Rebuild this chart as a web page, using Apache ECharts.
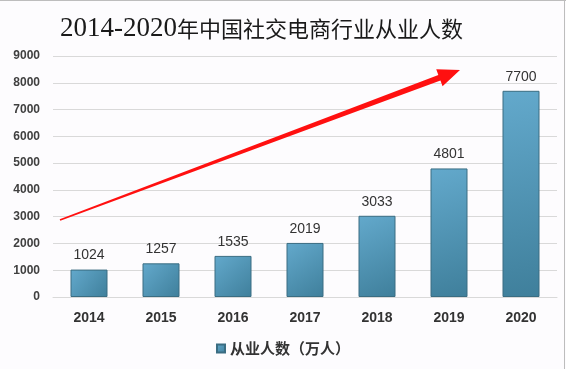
<!DOCTYPE html>
<html>
<head>
<meta charset="utf-8">
<script src="https://cdn.jsdelivr.net/npm/echarts@6/dist/echarts.min.js"></script>
<style>html,body{margin:0;padding:0;background:#fdfcfe}#c{width:566px;height:369px}</style>
</head>
<body>
<div id="c"></div>
<script>
const categories = ['2014', '2015', '2016', '2017', '2018', '2019', '2020'];
const employees = [1024, 1257, 1535, 2019, 3033, 4801, 7700];
const seriesName = '从业人数（万人）';
const titleYears = '2014-2020';
const titleText = '年中国社交电商行业从业人数';

const chart = echarts.init(document.getElementById('c'));

// tapered arrow polygon (decoration)
const sx = 60, sy = 220, tx = 460, ty = 70;
const dx = tx - sx, dy = ty - sy, L = Math.hypot(dx, dy);
const ux = dx / L, uy = dy / L, nx = -uy, ny = ux;
const headLen = 22, headW = 9, shaftW = 3, tailW = 0.9;
const bx = tx - headLen * ux, by = ty - headLen * uy;
const pts = [
  [sx + tailW * nx, sy + tailW * ny],
  [bx + shaftW * nx, by + shaftW * ny],
  [bx + headW * nx, by + headW * ny],
  [tx, ty],
  [bx - headW * nx, by - headW * ny],
  [bx - shaftW * nx, by - shaftW * ny],
  [sx - tailW * nx, sy - tailW * ny]
];

chart.setOption({
  backgroundColor: '#fdfcfe',
  animation: false,
  title: {
    text: '{a|' + titleYears + '}{b|' + titleText + '}',
    left: 55,
    top: 10,
    textStyle: {
      rich: {
        a: { fontFamily: 'Liberation Serif', fontSize: 27, color: '#1a1a1a', fontWeight: 'normal' },
        b: { fontFamily: 'Noto Sans CJK SC', fontSize: 22, color: '#1a1a1a', fontWeight: 'normal' }
      }
    }
  },
  grid: { left: 53, right: 9, top: 56, bottom: 72, containLabel: false },
  legend: {
    bottom: 8,
    left: 'center',
    itemWidth: 8,
    itemHeight: 8,
    itemGap: 4,
    icon: 'rect',
    textStyle: { fontFamily: 'Noto Sans CJK SC', fontSize: 15, fontWeight: 'bold', color: '#333' },
    data: [seriesName]
  },
  xAxis: {
    type: 'category',
    data: categories,
    axisLine: { show: true, lineStyle: { color: '#d9d9d9', width: 1 } },
    axisTick: { show: false },
    axisLabel: { fontFamily: 'Liberation Sans', fontSize: 14, fontWeight: 'bold', color: '#333', margin: 14 }
  },
  yAxis: {
    type: 'value',
    min: 0, max: 9000, interval: 1000,
    axisLine: { show: false },
    axisTick: { show: false },
    splitLine: { lineStyle: { color: '#d9d9d9', width: 1 } },
    axisLabel: { fontFamily: 'Liberation Sans', fontSize: 12, fontWeight: 'bold', color: '#404040', margin: 13,
      formatter: v => String(v) }
  },
  series: [{
    name: seriesName,
    type: 'bar',
    data: employees,
    barWidth: 37,
    itemStyle: {
      color: new echarts.graphic.LinearGradient(0, 0, 1, 1, [
        { offset: 0, color: '#63a9cc' },
        { offset: 1, color: '#3f7f9b' }
      ]),
      borderColor: '#3a6d82',
      borderWidth: 1
    },
    label: {
      show: true,
      position: 'top',
      distance: 7,
      fontFamily: 'Liberation Sans',
      fontSize: 14,
      color: '#333'
    }
  }],
  graphic: [
    { type: 'polygon', shape: { points: pts }, style: { fill: '#ff1010' }, z: 100 },
    { type: 'line', shape: { x1: 0, y1: 0.5, x2: 566, y2: 0.5 }, style: { stroke: '#bdbdbd', lineWidth: 1 } },
    { type: 'line', shape: { x1: 564.5, y1: 0, x2: 564.5, y2: 369 }, style: { stroke: '#bdbdbd', lineWidth: 1 } }
  ]
});
</script>
</body>
</html>
